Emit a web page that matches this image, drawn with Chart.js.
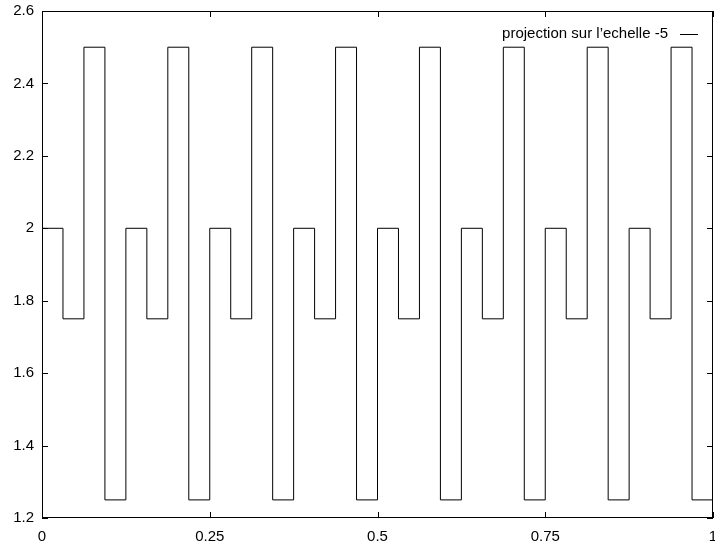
<!DOCTYPE html>
<html>
<head>
<meta charset="utf-8">
<script src="https://cdn.jsdelivr.net/npm/chart.js@4.4.1/dist/chart.umd.min.js"></script>
<style>
  html, body { margin: 0; padding: 0; background: #fff; }
  #wrap { width: 715px; height: 547px; }
</style>
</head>
<body>
<div id="wrap"><canvas id="chart" width="715" height="547"></canvas></div>
<script>
// start of each step on [0, 1]
const xStart = [
  0, 0.03125, 0.0625, 0.09375, 0.125, 0.15625, 0.1875, 0.21875,
  0.25, 0.28125, 0.3125, 0.34375, 0.375, 0.40625, 0.4375, 0.46875,
  0.5, 0.53125, 0.5625, 0.59375, 0.625, 0.65625, 0.6875, 0.71875,
  0.75, 0.78125, 0.8125, 0.84375, 0.875, 0.90625, 0.9375, 0.96875,
  1
]
// value held on each step (last one closes the curve at x = 1)
const levels = [
  2, 1.75, 2.5, 1.25, 2, 1.75, 2.5, 1.25,
  2, 1.75, 2.5, 1.25, 2, 1.75, 2.5, 1.25,
  2, 1.75, 2.5, 1.25, 2, 1.75, 2.5, 1.25,
  2, 1.75, 2.5, 1.25, 2, 1.75, 2.5, 1.25,
  1.25
]
const seriesLabel = 'projection sur l\u2019echelle -5'
const xTicks = [ 0, 0.25, 0.5, 0.75, 1 ]
const yTicks = [ 1.2, 1.4, 1.6, 1.8, 2, 2.2, 2.4, 2.6 ]

const FAMILY = '"Liberation Sans", Arial, sans-serif'
const SIZE = 15

// frame, inward ticks on all four sides, and the key in the top right corner
const gnuFrame = {
  id: 'gnuFrame',
  afterDatasetsDraw( chart ) {
    const { ctx, chartArea: a, scales } = chart
    const len = 6
    ctx.save( )
    ctx.strokeStyle = '#000'
    ctx.lineWidth = 1
    ctx.beginPath( )
    for ( const v of xTicks ) {
      const px = Math.round( scales.x.getPixelForValue( v ) ) + 0.5
      ctx.moveTo( px, a.bottom ); ctx.lineTo( px, a.bottom - len )
      ctx.moveTo( px, a.top ); ctx.lineTo( px, a.top + len )
    }
    for ( const v of yTicks ) {
      const py = Math.round( scales.y.getPixelForValue( v ) ) + 0.5
      ctx.moveTo( a.left, py ); ctx.lineTo( a.left + len, py )
      ctx.moveTo( a.right, py ); ctx.lineTo( a.right - len, py )
    }
    ctx.stroke( )
    ctx.strokeRect( a.left + 0.5, a.top + 0.5, a.right - a.left - 1, a.bottom - a.top - 1 )

    // key
    const ds = chart.data.datasets[ 0 ]
    ctx.font = `${SIZE}px ${FAMILY}`
    ctx.fillStyle = '#000'
    ctx.textAlign = 'right'
    ctx.textBaseline = 'middle'
    ctx.fillText( ds.label, 668, 34 )
    ctx.beginPath( )
    ctx.moveTo( 680, 34.5 ); ctx.lineTo( 698, 34.5 )
    ctx.stroke( )
    ctx.restore( )
  }
}

new Chart( document.getElementById( 'chart' ), {
  type: 'line',
  data: {
    datasets: [ {
      label: seriesLabel,
      data: xStart.map( ( x, i ) => ( { x, y: levels[ i ] } ) ),
      stepped: 'before',
      borderColor: '#000',
      borderWidth: 1,
      pointRadius: 0,
      fill: false
    } ]
  },
  options: {
    responsive: false,
    animation: false,
    events: [ ],
    layout: { padding: { top: 11, right: 2, left: 0, bottom: 0 } },
    plugins: { legend: { display: false }, tooltip: { enabled: false } },
    scales: {
      x: {
        type: 'linear',
        min: 0,
        max: 1,
        grid: { display: false, drawTicks: false },
        border: { display: false },
        afterBuildTicks: ( s ) => { s.ticks = xTicks.map( v => ( { value: v } ) ) },
        afterFit: ( s ) => { s.height = 29; s.paddingLeft = 0; s.paddingRight = 0 },
        ticks: { color: '#000', font: { family: FAMILY, size: SIZE }, padding: 10, maxRotation: 0, callback: ( v ) => String( v ) }
      },
      y: {
        min: 1.2,
        max: 2.6,
        grid: { display: false, drawTicks: false },
        border: { display: false },
        afterBuildTicks: ( s ) => { s.ticks = yTicks.map( v => ( { value: v } ) ) },
        afterFit: ( s ) => { s.width = 42; s.paddingTop = 0; s.paddingBottom = 0 },
        ticks: { color: '#000', font: { family: FAMILY, size: SIZE }, padding: 8, callback: ( v ) => String( v ) }
      }
    }
  },
  plugins: [ gnuFrame ]
} )
</script>
</body>
</html>
